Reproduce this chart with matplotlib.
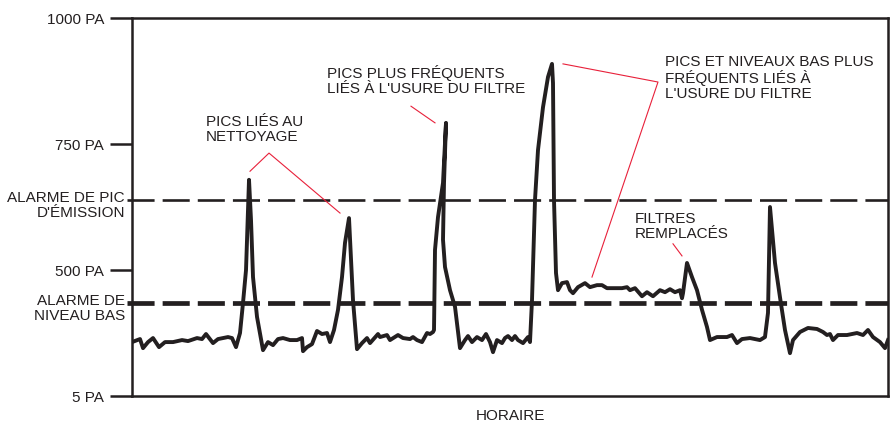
import matplotlib
matplotlib.use("Agg")
import matplotlib.pyplot as plt

# time axis (arbitrary units) and pressure as drawn on the chart's display scale
time = [0, 8, 11, 16, 21, 27, 33, 41, 50, 56, 65, 70, 74, 81, 86, 96, 100, 104, 108,
        111, 114, 116, 117, 119, 121, 125, 131, 136, 141, 146, 151, 158, 165, 170,
        171, 175, 180, 185, 190, 195, 198, 202, 206, 210, 213, 217, 221, 225, 230,
        235, 238, 246, 248, 255, 258, 266, 271, 278, 281, 285, 290, 295, 298, 301,
        302, 303, 306, 311, 314, 312, 311, 313, 318, 323, 328, 333, 336, 340, 345,
        350, 354, 358, 361, 365, 370, 373, 376, 380, 383, 386, 391, 396, 398, 400,
        403, 406, 411, 416, 420, 421, 422, 424, 426, 430, 435, 438, 441, 446, 453,
        458, 465, 470, 475, 481, 490, 495, 498, 503, 510, 515, 521, 528, 533, 538,
        543, 548, 550, 551, 555, 560, 565, 570, 575, 578, 585, 595, 600, 605, 610,
        618, 628, 633, 636, 638, 643, 648, 653, 658, 661, 668, 676, 685, 691, 695,
        698, 701, 706, 715, 725, 731, 736, 741, 748, 753, 756]
pressure = [357, 363, 345, 357, 365, 347, 357, 357, 361, 359, 365, 363, 373, 355, 363,
            367, 365, 347, 375, 435, 500, 619, 679, 599, 486, 407, 341, 357, 351, 363,
            365, 361, 361, 365, 339, 347, 353, 379, 373, 375, 357, 381, 421, 486, 554,
            603, 440, 343, 355, 365, 355, 373, 367, 371, 361, 371, 365, 363, 367, 361,
            357, 375, 373, 377, 381, 540, 605, 673, 792, 673, 560, 506, 460, 427, 345,
            361, 369, 357, 367, 361, 373, 357, 337, 361, 355, 365, 369, 361, 369, 361,
            355, 367, 357, 440, 639, 738, 823, 883, 909, 871, 639, 494, 460, 474, 476,
            460, 454, 466, 474, 466, 470, 470, 464, 464, 464, 466, 460, 464, 448, 456,
            448, 460, 456, 462, 456, 460, 444, 454, 514, 486, 460, 421, 387, 361, 367,
            367, 371, 355, 363, 365, 361, 367, 415, 625, 514, 446, 381, 335, 361, 377,
            385, 383, 377, 371, 373, 361, 371, 371, 375, 371, 381, 367, 357, 345, 361]

tick_pos = [250, 500, 750, 1000]
tick_labels = ["5 PA", "500 PA", "750 PA", "1000 PA"]

peak_alarm = 639
low_alarm = 435
alarm_labels = ["ALARME DE PIC\nD'ÉMISSION", "ALARME DE\nNIVEAU BAS"]

notes = ["PICS LIÉS AU\nNETTOYAGE",
         "PICS PLUS FRÉQUENTS\nLIÉS À L'USURE DU FILTRE",
         "PICS ET NIVEAUX BAS PLUS\nFRÉQUENTS LIÉS À\nL'USURE DU FILTRE",
         "FILTRES\nREMPLACÉS"]
note_xy = [(74, 808), (195, 907), (533, 927), (503, 615)]
# red leader lines (t, value) pairs
leaders = [([118, 137, 208], [696, 732, 613]),
           ([279, 303], [825, 792]),
           ([431, 526, 460], [909, 873, 486]),
           ([541, 550], [552, 528])]

INK = "#231f20"
RED = "#e8203a"
FS = 11
plt.rcParams["font.family"] = ["Liberation Sans", "DejaVu Sans"]
plt.rcParams["lines.scale_dashes"] = False

fig = plt.figure(figsize=(8.92, 4.23), dpi=100)
ax = fig.add_axes([0.148, 0.0638, 0.8475, 0.8936])

ax.plot(time, pressure, color=INK, lw=2.8, solid_joinstyle="round", zorder=3)

ax.axhline(peak_alarm, xmin=-0.007, color=INK, lw=1.9, dashes=(19.5, 5.8),
           clip_on=False, zorder=2)
ax.axhline(low_alarm, xmin=-0.007, color=INK, lw=3.4, dashes=(19.5, 5.8),
           clip_on=False, zorder=2)
for lab, yv in zip(alarm_labels, [peak_alarm, low_alarm]):
    ax.annotate(lab, xy=(0, yv), xycoords=("axes fraction", "data"),
                xytext=(-5, 6.5), textcoords="offset points", ha="right",
                va="top", fontsize=FS, color=INK, linespacing=1.1)

for txt, (tx, ty) in zip(notes, note_xy):
    ax.text(tx, ty, txt, fontsize=FS, color=INK, ha="left", va="top",
            linespacing=1.1)
for xs, ys in leaders:
    ax.plot(xs, ys, color=RED, lw=0.8, zorder=4)

ax.set_xlim(0, 756)
ax.set_ylim(250, 1000)
ax.set_xticks([])
ax.set_yticks(tick_pos)
ax.set_yticklabels(tick_labels, fontsize=FS, color=INK)
ax.tick_params(axis="y", length=16, width=1.8, pad=4, color=INK)
for s in ax.spines.values():
    s.set_linewidth(1.8)
    s.set_color(INK)
ax.set_xlabel("HORAIRE", fontsize=FS, color=INK, labelpad=9)

fig.savefig("out.png", dpi=100)
